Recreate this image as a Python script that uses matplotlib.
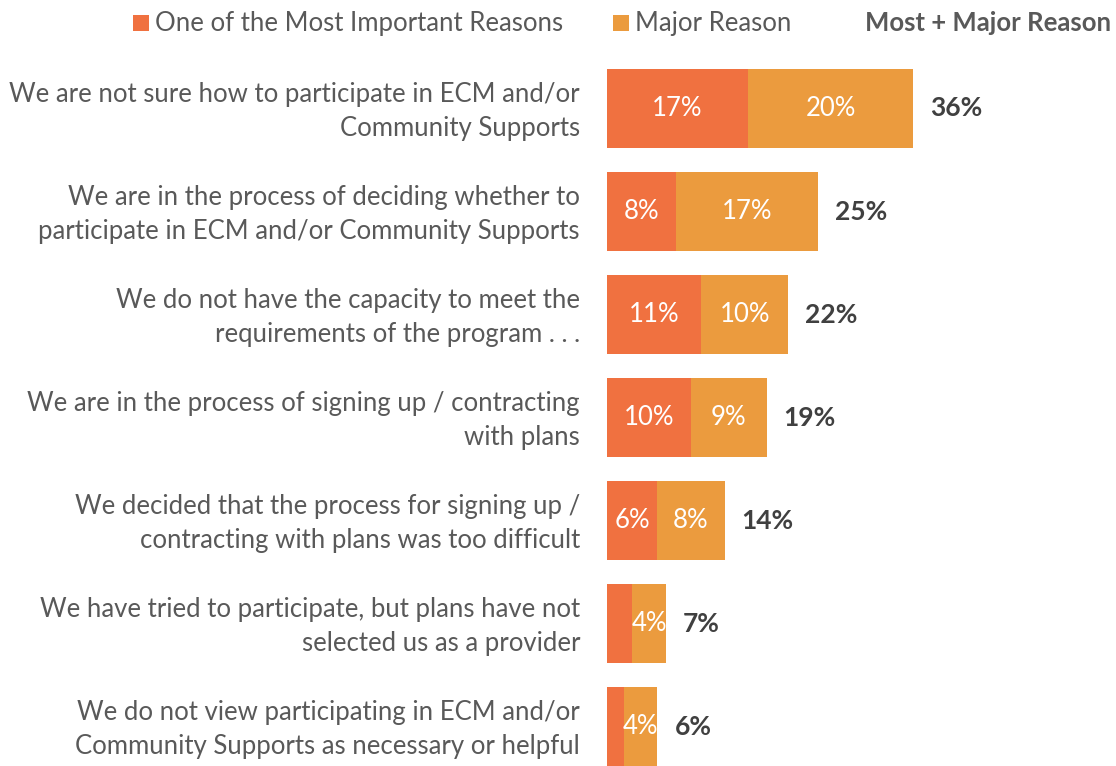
import matplotlib.pyplot as plt
from matplotlib.patches import Rectangle

plt.rcParams['font.family'] = ['Lato', 'DejaVu Sans']

categories = [
    "We are not sure how to participate in ECM and/or\nCommunity Supports",
    "We are in the process of deciding whether to\nparticipate in ECM and/or Community Supports",
    "We do not have the capacity to meet the\nrequirements of the program . . .",
    "We are in the process of signing up / contracting\nwith plans",
    "We decided that the process for signing up /\ncontracting with plans was too difficult",
    "We have tried to participate, but plans have not\nselected us as a provider",
    "We do not view participating in ECM and/or\nCommunity Supports as necessary or helpful",
]
most_important = [16.8, 8.2, 11.2, 10.0, 6.0, 3.0, 2.0]
major_reason = [19.6, 16.9, 10.4, 9.0, 8.0, 4.0, 4.0]
series_names = ["One of the Most Important Reasons", "Major Reason"]
total_name = "Most + Major Reason"

c_most = "#F07140"
c_major = "#EB9B3E"
c_text = "#595959"
c_total = "#404040"
fs = 18.5

W, H = 1116, 766
fig = plt.figure(figsize=(W / 100, H / 100), dpi=100)

ax_left, ax_right = 607, 1111
ax_top = 56.9
ax = fig.add_axes([ax_left / W, 0, (ax_right - ax_left) / W, (H - ax_top) / H])

y = list(range(len(categories)))
bar_h = 0.766
b1 = ax.barh(y, most_important, height=bar_h, color=c_most, edgecolor='none')
b2 = ax.barh(y, major_reason, left=most_important, height=bar_h, color=c_major, edgecolor='none')

ax.set_xlim(0, 60)
ax.set_ylim(6.38, -0.5)

# value labels inside the segments
for rects, vals in ((b1, most_important), (b2, major_reason)):
    for r, v in zip(rects, vals):
        if round(v) >= 4:
            ax.text(r.get_x() + r.get_width() / 2, r.get_y() + r.get_height() / 2,
                    f"{round(v)}%", ha='center', va='center', color='white', fontsize=fs)

# totals to the right of each bar
for yi, a, b in zip(y, most_important, major_reason):
    tot = a + b
    ax.annotate(f"{round(tot)}%", xy=(tot, yi), xytext=(17, 0), textcoords='offset pixels',
                ha='left', va='center', color=c_total, fontsize=fs + 0.5, fontweight='bold')

# category labels, right-aligned left of the bars
for yi, cat in zip(y, categories):
    ax.annotate(cat, xy=(0, yi), xytext=(-27, -3), textcoords='offset pixels',
                ha='right', va='center', multialignment='right',
                fontsize=fs, color=c_text, linespacing=1.45, annotation_clip=False)

ax.set_yticks([])
ax.set_xticks([])
for s in ax.spines.values():
    s.set_visible(False)

# legend row
def fx(px):
    return px / W

def fy(py):
    return 1 - py / H

leg_y = 23
for x0, color, name in ((133, c_most, series_names[0]), (613, c_major, series_names[1])):
    fig.add_artist(Rectangle((fx(x0), fy(31)), 16 / W, 16 / H, transform=fig.transFigure,
                             facecolor=color, edgecolor='none'))
    fig.text(fx(x0 + 22), fy(leg_y), name, ha='left', va='center', fontsize=fs, color=c_text)
fig.text(fx(1111), fy(leg_y), total_name, ha='right', va='center', fontsize=fs,
         color=c_text, fontweight='bold')

fig.savefig("out.png", dpi=100)
